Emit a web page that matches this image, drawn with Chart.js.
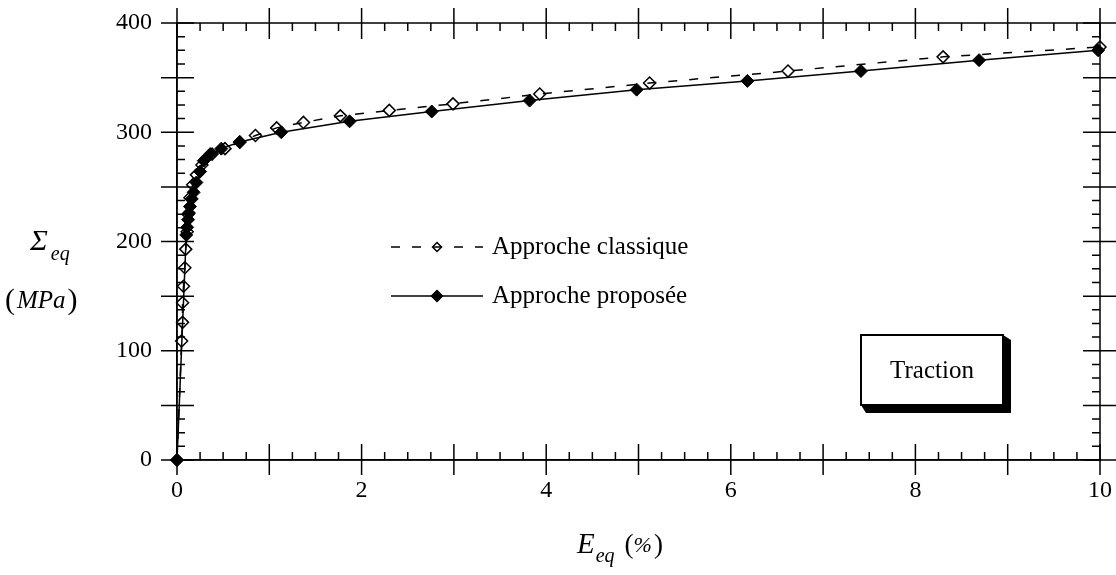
<!DOCTYPE html>
<html>
<head>
<meta charset="utf-8">
<script src="https://cdn.jsdelivr.net/npm/chart.js@4/dist/chart.umd.min.js"></script>
<style>
  html, body { margin: 0; background: #fff; }
</style>
</head>
<body>
<canvas id="traction" width="1116" height="575"></canvas>
<script>
// Approche classique (hollow diamonds, dashed)
const classiqueX = [0, 0.05, 0.06, 0.06, 0.07, 0.085, 0.095, 0.11, 0.12, 0.14, 0.17, 0.21, 0.27, 0.38, 0.52, 0.68, 0.85, 1.08, 1.37, 1.77, 2.30, 2.99, 3.93, 5.12, 6.62, 8.30, 10];
const classiqueY = [0, 109, 126, 144, 159, 176, 193, 209, 225, 240, 252, 261, 270, 280, 285, 291, 297, 304, 309, 315, 320, 326, 335, 345, 356, 369, 378];

// Approche proposée (filled diamonds, solid)
const proposeeX = [0, 0.1, 0.11, 0.12, 0.13, 0.14, 0.16, 0.18, 0.21, 0.25, 0.29, 0.36, 0.48, 0.68, 1.13, 1.87, 2.76, 3.82, 4.98, 6.18, 7.41, 8.69, 9.98];
const proposeeY = [0, 206, 213, 220, 226, 232, 239, 245, 254, 264, 274, 280, 285, 291, 300, 310, 319, 329, 339, 347, 356, 366, 375];

const xTickLabels = [0, 2, 4, 6, 8, 10];
const yTickLabels = [0, 100, 200, 300, 400];
const seriesNames = ['Approche proposée', 'Approche classique'];

const serif = '"Liberation Serif", "Times New Roman", serif';

const toPoints = (xs, ys) => xs.map((v, i) => ({ x: v, y: ys[i] }));

// draw a run of text pieces one after another: [text, font, dy, gap]
function drawRun(ctx, x, y, parts) {
  parts.forEach(([t, f, dy, gap]) => {
    ctx.font = f;
    ctx.fillText(t, x, y + (dy || 0));
    x += ctx.measureText(t).width + (gap || 0);
  });
}

// frame with mirrored ticks, majors crossing the axis, minors inside
const frame = {
  id: 'frame',
  beforeDatasetsDraw(chart) {
    const { ctx, chartArea: a, scales: { x, y } } = chart;
    ctx.save();
    ctx.strokeStyle = '#000';
    ctx.lineWidth = 1.5;
    ctx.strokeRect(a.left, a.top, a.width, a.height);
    ctx.beginPath();
    for (let v = 0; v <= 10.001; v += 0.25) {
      const px = x.getPixelForValue(v);
      const major = Math.abs(v - Math.round(v)) < 1e-6;
      const out = major ? 15 : 0, inn = major ? 16 : 8;
      ctx.moveTo(px, a.bottom + out); ctx.lineTo(px, a.bottom - inn);
      ctx.moveTo(px, a.top - out); ctx.lineTo(px, a.top + inn);
    }
    for (let v = 0; v <= 400.001; v += 12.5) {
      const py = y.getPixelForValue(v);
      const major = Math.abs(v / 50 - Math.round(v / 50)) < 1e-6;
      const out = major ? 16 : 0, inn = major ? 17 : 8;
      ctx.moveTo(a.left - out, py); ctx.lineTo(a.left + inn, py);
      ctx.moveTo(a.right + out, py); ctx.lineTo(a.right - inn, py);
    }
    ctx.stroke();
    ctx.restore();
  }
};

// legend, boxed label and axis titles
const notes = {
  id: 'notes',
  afterDraw(chart) {
    const { ctx } = chart;
    ctx.save();
    ctx.fillStyle = '#000';
    ctx.strokeStyle = '#000';

    // legend
    const rows = [
      { ds: chart.data.datasets[1], y: 247, r: 4.5 },
      { ds: chart.data.datasets[0], y: 296, r: 5.5 }
    ];
    rows.forEach(row => {
      ctx.save();
      ctx.lineWidth = 1.5;
      ctx.setLineDash(row.ds.borderDash || []);
      ctx.beginPath();
      ctx.moveTo(391, row.y); ctx.lineTo(483, row.y);
      ctx.stroke();
      ctx.restore();
      ctx.save();
      ctx.fillStyle = row.ds.pointBackgroundColor;
      ctx.strokeStyle = '#000';
      ctx.lineWidth = 1.5;
      Chart.helpers.drawPoint(ctx, { pointStyle: 'rectRot', radius: row.r, borderWidth: 1.5 }, 437, row.y);
      ctx.restore();
      ctx.font = '25px ' + serif;
      ctx.textBaseline = 'middle';
      ctx.fillText(row.ds.label, 492, row.y);
    });

    // Traction box with shadow
    const bx = 861, by = 335, bw = 142, bh = 70, d = 8;
    ctx.beginPath();
    ctx.moveTo(bx + bw, by);
    ctx.lineTo(bx + bw + d, by + 5);
    ctx.lineTo(bx + bw + d, by + bh + d);
    ctx.lineTo(bx + 5, by + bh + d);
    ctx.lineTo(bx, by + bh);
    ctx.closePath();
    ctx.fill();
    ctx.fillStyle = '#fff';
    ctx.fillRect(bx, by, bw, bh);
    ctx.lineWidth = 2;
    ctx.strokeRect(bx, by, bw, bh);
    ctx.fillStyle = '#000';
    ctx.font = '25px ' + serif;
    ctx.textAlign = 'center';
    ctx.textBaseline = 'middle';
    ctx.fillText('Traction', bx + bw / 2, by + bh / 2 + 1);

    // axis titles
    ctx.textAlign = 'left';
    ctx.textBaseline = 'alphabetic';
    drawRun(ctx, 577, 553, [
      ['E', 'italic 29px ' + serif, 0, 1],
      ['eq', 'italic 20px ' + serif, 9, 10],
      ['(', '27px ' + serif],
      ['%', 'italic 22px ' + serif, -1, 2],
      [')', '27px ' + serif]
    ]);
    drawRun(ctx, 30, 250, [
      ['\u03A3', 'italic 30px ' + serif, 0, 3],
      ['eq', 'italic 20px ' + serif, 10]
    ]);
    drawRun(ctx, 5, 309, [
      ['(', '30px ' + serif, 0, 2],
      ['MPa', 'italic 25px ' + serif, -1, 2],
      [')', '30px ' + serif]
    ]);

    ctx.restore();
  }
};

new Chart(document.getElementById('traction').getContext('2d'), {
  type: 'line',
  data: {
    datasets: [{
      label: seriesNames[0],
      data: toPoints(proposeeX, proposeeY),
      borderColor: '#000',
      borderWidth: 1.5,
      pointStyle: 'rectRot',
      pointRadius: 6.5,
      pointBackgroundColor: '#000',
      pointBorderColor: '#000',
      pointBorderWidth: 1,
      tension: 0,
      clip: false
    }, {
      label: seriesNames[1],
      data: toPoints(classiqueX, classiqueY),
      borderColor: '#000',
      borderWidth: 1.5,
      borderDash: [9, 12],
      pointStyle: 'rectRot',
      pointRadius: 6,
      pointBackgroundColor: 'rgba(0,0,0,0)',
      pointBorderColor: '#000',
      pointBorderWidth: 1.5,
      tension: 0,
      clip: false
    }]
  },
  options: {
    responsive: false,
    animation: false,
    layout: { padding: { top: 23, right: 16, left: 0, bottom: 0 } },
    plugins: {
      legend: { display: false },
      tooltip: { enabled: false }
    },
    scales: {
      x: {
        type: 'linear',
        min: 0,
        max: 10,
        afterBuildTicks: s => { s.ticks = xTickLabels.map(v => ({ value: v })); },
        afterFit: s => { s.height = 115; s.paddingLeft = 0; s.paddingRight = 0; },
        grid: { display: false, drawTicks: false },
        border: { display: true, color: '#000', width: 1.5 },
        ticks: { color: '#000', padding: 16, maxRotation: 0, autoSkip: false, font: { family: serif, size: 24 } }
      },
      y: {
        type: 'linear',
        min: 0,
        max: 400,
        afterBuildTicks: s => { s.ticks = yTickLabels.map(v => ({ value: v })); },
        afterFit: s => { s.width = 177; s.paddingTop = 0; s.paddingBottom = 0; },
        grid: { display: false, drawTicks: false },
        border: { display: true, color: '#000', width: 1.5 },
        ticks: { color: '#000', padding: 25, autoSkip: false, font: { family: serif, size: 24 } }
      }
    }
  },
  plugins: [frame, notes]
});
</script>
</body>
</html>
